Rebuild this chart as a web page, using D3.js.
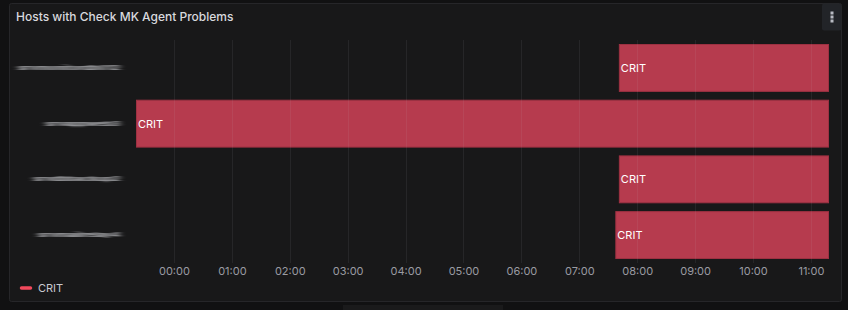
<!DOCTYPE html>
<html>
<head>
<meta charset="utf-8">
<script src="https://cdn.jsdelivr.net/npm/d3@7"></script>
<style>
  html, body { margin: 0; padding: 0; background: #111112; }
  body { width: 848px; height: 310px; overflow: hidden; font-family: Inter, "Open Sans", sans-serif; }
</style>
</head>
<body>
<script>
const width = 848;
const height = 310;

// hosts (names are redacted in the reference)
const hosts = ['srvmonitordb012', 'srvappweb3', 'srvdbbackup2', 'srvmailrelay4'];
const states = ['CRIT', 'CRIT', 'CRIT', 'CRIT'];
// problem start per host (UTC), range is the last ~12h
const starts = ['2024-03-11T07:41:00Z', '2024-03-10T21:00:00Z', '2024-03-11T07:41:00Z', '2024-03-11T07:37:20Z'];
const timeFrom = '2024-03-10T23:20:40Z';
const timeTo = '2024-03-11T11:18:45Z';
const tickTimes = ['00:00', '01:00', '02:00', '03:00', '04:00', '05:00', '06:00', '07:00', '08:00', '09:00', '10:00', '11:00'];
const legendItems = ['CRIT'];

const crit = '#f2495c';
const bar_fill = '#b63b4e';
const bar_stroke = '#9d3142';

const svg = d3.select('body').append('svg')
    .attr('width', width)
    .attr('height', height);

const defs = svg.append('defs');
defs.append('filter').attr('id', 'smudge')
    .attr('x', '-10%').attr('y', '-80%').attr('width', '120%').attr('height', '260%')
  .append('feGaussianBlur').attr('stdDeviation', '3 1.2');
defs.append('clipPath').attr('id', 'plot-clip')
  .append('rect').attr('x', 136).attr('y', 0).attr('width', 693).attr('height', height);

// panel
svg.append('rect')
    .attr('x', 9.5).attr('y', 3.5)
    .attr('width', 832).attr('height', 298)
    .attr('rx', 2)
    .attr('fill', '#181819')
    .attr('stroke', '#262629');

// bit of next panel peeking below
svg.append('rect')
    .attr('x', 343).attr('y', 305).attr('width', 160).attr('height', 10)
    .attr('fill', '#1a1a1b');

svg.append('text')
    .attr('x', 16).attr('y', 21)
    .attr('fill', '#d8d9de')
    .attr('font-size', 12)
    .attr('font-weight', 500)
    .text('Hosts with Check MK Agent Problems');

// menu button
const menu = svg.append('g');
menu.append('rect')
    .attr('x', 822).attr('y', 3.5).attr('width', 19.5).attr('height', 27)
    .attr('rx', 2).attr('fill', '#222428');
menu.selectAll('rect.dot')
    .data([13, 17, 21])
    .enter().append('rect')
        .attr('class', 'dot')
        .attr('x', 830.5).attr('y', (d) => d - 1.5)
        .attr('width', 3).attr('height', 3)
        .attr('fill', '#b8bac2');

const x = d3.scaleUtc()
    .domain([new Date(timeFrom), new Date(timeTo)])
    .range([136, 829]);

const y = d3.scaleBand()
    .domain(hosts)
    .range([40.1, 262.9])
    .paddingInner(0.14)
    .paddingOuter(0.07);

const rows = hosts.map((h, i) => ({ host: h, state: states[i], start: new Date(starts[i]), end: new Date(timeTo) }));

// redacted host labels (smudged like in the reference)
svg.append('g').selectAll('text')
    .data(hosts)
    .enter().append('text')
        .attr('transform', (d) => `translate(120,${y(d) + y.bandwidth() / 2}) scale(1,0.5)`)
        .attr('text-anchor', 'end')
        .attr('dy', '0.35em')
        .attr('font-size', 12)
        .attr('font-weight', 800)
        .attr('fill', '#b4b5b9')
        .attr('filter', 'url(#smudge)')
        .text((d) => d);

// bars
const bars = svg.append('g').attr('clip-path', 'url(#plot-clip)');
bars.selectAll('rect')
    .data(rows)
    .enter().append('rect')
        .attr('x', (d) => Math.max(x(d.start), x.range()[0]) + 0.5)
        .attr('y', (d) => y(d.host) + 0.5)
        .attr('width', (d) => x(d.end) - Math.max(x(d.start), x.range()[0]) - 1)
        .attr('height', y.bandwidth() - 1)
        .attr('fill', bar_fill)
        .attr('stroke', bar_stroke);

// grid
const tickDates = tickTimes.map((t) => new Date(`2024-03-11T${t}:00Z`));
svg.append('g').selectAll('line')
    .data(tickDates)
    .enter().append('line')
        .attr('x1', (d) => Math.round(x(d)) + 0.5)
        .attr('x2', (d) => Math.round(x(d)) + 0.5)
        .attr('y1', 40).attr('y2', 263)
        .attr('stroke', 'rgba(204,204,220,0.08)');

// bar labels
bars.selectAll('text')
    .data(rows)
    .enter().append('text')
        .attr('x', (d) => Math.max(x(d.start), x.range()[0]) + 2)
        .attr('y', (d) => y(d.host) + y.bandwidth() / 2)
        .attr('dy', '0.35em')
        .attr('font-size', 11)
        .attr('fill', '#ffffff')
        .text((d) => d.state);

// x axis labels
const xAxis = svg.append('g')
    .attr('transform', 'translate(0,263)')
    .call(d3.axisBottom(x)
        .tickValues(tickDates)
        .tickFormat((d, i) => tickTimes[i])
        .tickSize(0)
        .tickPadding(4));
xAxis.select('.domain').remove();
xAxis.selectAll('text')
    .attr('font-family', 'Inter, sans-serif')
    .attr('font-size', 11)
    .attr('fill', '#9a9ba2');

// legend
const legend = svg.append('g').attr('transform', 'translate(20,288)');
legend.selectAll('line')
    .data(legendItems)
    .enter().append('line')
        .attr('x1', 1.5).attr('x2', 10.5)
        .attr('stroke', crit)
        .attr('stroke-width', 3.5)
        .attr('stroke-linecap', 'round');
legend.selectAll('text')
    .data(legendItems)
    .enter().append('text')
        .attr('x', 18).attr('dy', '0.35em')
        .attr('font-size', 11)
        .attr('fill', '#c8c9d0')
        .text((d) => d);
</script>
</body>
</html>
